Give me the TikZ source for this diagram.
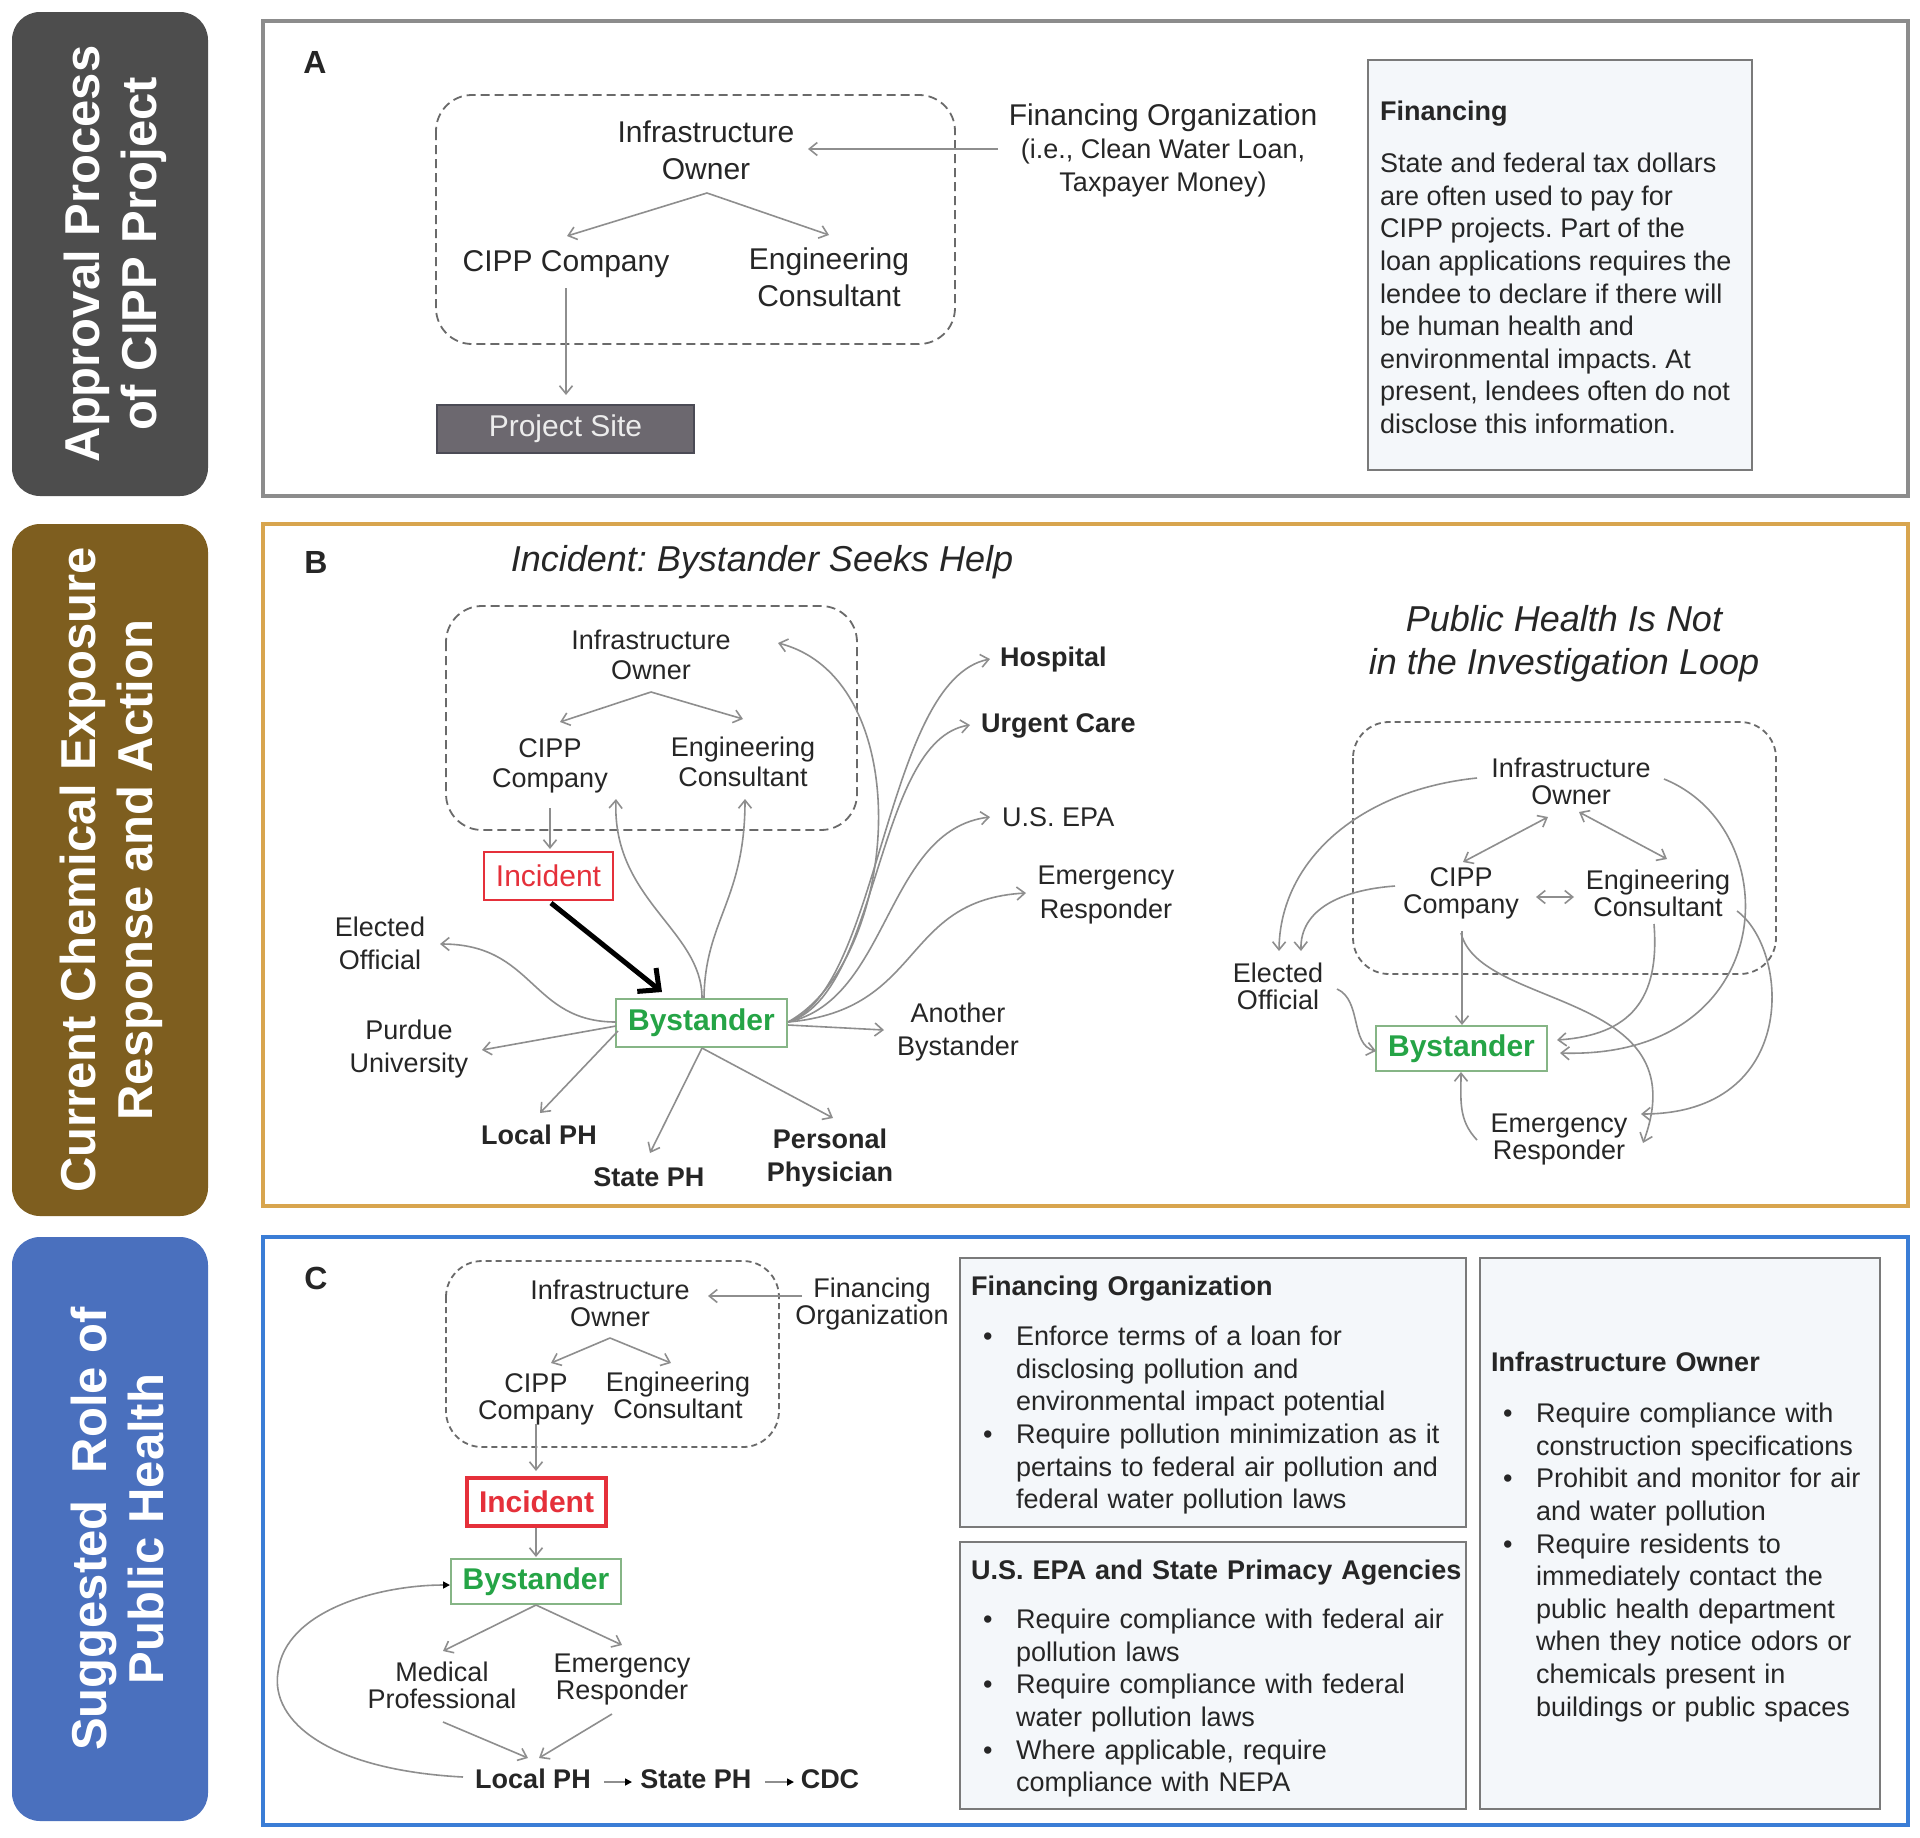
\documentclass[tikz,border=0pt]{standalone}
\usepackage{fontspec}
\setmainfont{Liberation Sans}
\usetikzlibrary{arrows.meta}
\definecolor{barA}{HTML}{4D4D4D}
\definecolor{barB}{HTML}{7E5E1F}
\definecolor{barC}{HTML}{4A70BE}
\definecolor{frA}{HTML}{8C8C8C}
\definecolor{frB}{HTML}{D8A54E}
\definecolor{frC}{HTML}{3A7DD6}
\definecolor{lgrey}{HTML}{8E8E8E}
\definecolor{dgrey}{HTML}{6A6A6A}
\definecolor{txt}{HTML}{262626}
\definecolor{incred}{HTML}{E5303A}
\definecolor{bygreen}{HTML}{25A446}
\definecolor{byborder}{HTML}{86B586}
\definecolor{boxfill}{HTML}{F4F7FA}
\definecolor{boxline}{HTML}{7A7A7A}
\definecolor{siteFill}{HTML}{6C686F}
\definecolor{siteLine}{HTML}{4B4B55}
\newcommand{\bitm}[1]{\hangindent=45pt\hangafter=1\noindent\hspace*{12pt}\makebox[33pt][l]{\textbullet}#1\par}
\frenchspacing
\begin{document}
\begin{tikzpicture}[x=1pt,y=-1pt,
  lab/.style={align=center,inner sep=0pt,text=txt},
  la30/.style={lab,font=\fontsize{30}{37}\selectfont},
  lb27/.style={lab,font=\fontsize{27}{30}\selectfont},
  lo27/.style={lab,font=\fontsize{27}{33}\selectfont},
  lr27/.style={lab,font=\fontsize{27}{27}\selectfont},
  bo27/.style={lab,font=\bfseries\fontsize{27}{33}\selectfont},
  panlab/.style={lab,font=\bfseries\fontsize{32}{32}\selectfont},
  ttl/.style={lab,font=\itshape\fontsize{36}{43}\selectfont},
  bartxt/.style={align=center,inner sep=0pt,text=white,rotate=90,font=\bfseries\fontsize{49}{57}\selectfont},
  dbox/.style={draw=dgrey,line width=1.8pt,dash pattern=on 9pt off 5pt,rounded corners=36pt},
  dboxs/.style={draw=dgrey,line width=1.8pt,dash pattern=on 6pt off 4pt,rounded corners=36pt},
  arr/.style={draw=lgrey,line width=1.6pt,-{Straight Barb[length=8pt,width=13pt]}},
  barr/.style={draw=lgrey,line width=1.6pt,{Straight Barb[length=8pt,width=13pt]}-{Straight Barb[length=8pt,width=13pt]}},
  smarr/.style={draw=lgrey,line width=1.6pt,-{Triangle[length=7pt,width=7pt,color=black]}},
  bybox/.style={draw=byborder,line width=2pt,inner sep=0pt,text=bygreen,font=\bfseries\fontsize{30}{30}\selectfont},
  incbox/.style={draw=incred,line width=2.5pt,inner sep=0pt,text=incred,font=\fontsize{30}{30}\selectfont},
  tbox/.style={draw=boxline,line width=2pt,fill=boxfill},
  btxt/.style={anchor=north west,inner sep=0pt,align=left,text=txt,font=\fontsize{27}{32.6}\selectfont}
]
\useasboundingbox (0,0) rectangle (1920,1837);
\fill[white] (0,0) rectangle (1920,1837);

% ---------------- side bars
\fill[barA,rounded corners=28pt] (12,12) rectangle (208,496);
\node[bartxt] (barAt) at (115,254) {Approval Process\\of CIPP Project};
\fill[barB,rounded corners=28pt] (12,524) rectangle (208,1216);
\node[bartxt] (barBt) at (111,870) {Current Chemical Exposure\\Response and Action};
\fill[barC,rounded corners=28pt] (12,1237) rectangle (208,1821);
\node[bartxt] (barCt) at (117,1529) {Suggested\ \ Role of\\Public Health};

% ---------------- frames
\draw[frA,line width=3.5pt] (263,21) rectangle (1908,496);
\draw[frB,line width=3.5pt] (263,524) rectangle (1908,1206);
\draw[frC,line width=3.5pt] (263,1237) rectangle (1908,1825);

% ================= PANEL A
\node[panlab] (labA) at (315,62) {A};
\draw[dbox] (436,95) rectangle (955,344);
\node[la30] (ioA) at (706,150) {Infrastructure\\Owner};
\node[la30] (cippA) at (566,264) {CIPP Company};
\node[la30] (ecA) at (829,277) {Engineering\\Consultant};
\node[draw=siteLine,line width=2pt,fill=siteFill,minimum width=257pt,minimum height=48pt,inner sep=0pt,text={rgb,255:red,236;green,236;blue,236},font=\fontsize{30}{30}\selectfont] (siteA) at (565.5,429) {Project Site};
\node[lab,font=\fontsize{27}{33}\selectfont] (finA) at (1163,150) {{\fontsize{30}{33}\selectfont Financing Organization}\\(i.e., Clean Water Loan,\\Taxpayer Money)};
\coordinate (apexA) at (707,193);
\coordinate (cippAin) at (567,236);
\coordinate (ecAin) at (829,235);
\coordinate (cippAout) at (566,288);
\coordinate (siteAin) at (566,395);
\coordinate (finAout) at (998,149);
\coordinate (ioAin) at (808,149);
\draw[arr] (apexA) -- (cippAin);
\draw[arr] (apexA) -- (ecAin);
\draw[arr] (cippAout) -- (siteAin);
\draw[arr] (finAout) -- (ioAin);
\draw[tbox] (1368,60) rectangle (1752,470);
\node[btxt] (finTxtA) at (1380,101) {\textbf{Financing}\\[19.4pt]
State and federal tax dollars\\
are often used to pay for\\
CIPP projects. Part of the\\
loan applications requires the\\
lendee to declare if there will\\
be human health and\\
environmental impacts. At\\
present, lendees often do not\\
disclose this information.};

% ================= PANEL B (left)
\node[panlab] (labB) at (316,562) {B};
\node[ttl] (ttlB) at (762,562) {Incident: Bystander Seeks Help};
\draw[dbox] (446,606) rectangle (857,830);
\node[lb27] (ioB) at (651,655) {Infrastructure\\Owner};
\node[lb27] (cippB) at (550,766) {CIPP\\Company};
\node[lb27] (ecB) at (743,762) {Engineering\\Consultant};
\node[incbox,minimum width=129pt,minimum height=48pt] (incB) at (548.5,876) {Incident};
\node[bybox,minimum width=171pt,minimum height=48pt] (byB) at (701.5,1023) {Bystander};
\node[lo27] (elB) at (380,943) {Elected\\Official};
\node[lo27] (puB) at (409,1049) {Purdue\\University};
\node[bo27] (lphB) at (539,1135) {Local PH};
\node[bo27] (sphB) at (649,1177) {State PH};
\node[bo27] (ppB) at (830,1158) {Personal\\Physician};
\node[lo27] (anB) at (958,1032) {Another\\Bystander};
\node[bo27,anchor=west] (hoB) at (1000,660) {Hospital};
\node[bo27,anchor=west] (ucB) at (981,726) {Urgent Care};
\node[lo27,anchor=west] (epaB) at (1002,817) {U.S. EPA};
\node[lo27] (erB) at (1106,895) {Emergency\\Responder};

\coordinate (apexB) at (651,692);
\coordinate (cippBin) at (560,722);
\coordinate (ecBin) at (743,719);
\coordinate (cippBout) at (550,808);
\coordinate (incBin) at (550,849);
\coordinate (incBout) at (551,903);
\coordinate (byBin) at (662,992);
\coordinate (byBl) at (616,1022);
\coordinate (byBl2) at (616,1026);
\coordinate (byBl3) at (618,1031);
\coordinate (byBb) at (702,1048);
\coordinate (byBt) at (702,998);
\coordinate (byBt2) at (704,998);
\coordinate (byBr) at (788,1022);
\coordinate (byBr2) at (788,1025);
\coordinate (elBin) at (440,944);
\coordinate (puBin) at (482,1050);
\coordinate (lphBin) at (540,1113);
\coordinate (sphBin) at (650,1153);
\coordinate (ppBin) at (833,1118);
\coordinate (anBin) at (884,1030);
\coordinate (cippBup) at (616,799);
\coordinate (ecBup) at (745,799);
\coordinate (ioBin) at (778,643);
\coordinate (hoBin) at (990,659);
\coordinate (ucBin) at (970,725);
\coordinate (epaBin) at (990,817);
\coordinate (erBin) at (1026,893);

\draw[arr] (apexB) -- (cippBin);
\draw[arr] (apexB) -- (ecBin);
\draw[arr] (cippBout) -- (incBin);
\draw[line width=5pt,-{Straight Barb[length=16pt,width=30pt]}] (incBout) -- (byBin);
\draw[arr] (byBl) .. controls (530,1022) and (535,944) .. (elBin);
\draw[arr] (byBl2) -- (puBin);
\draw[arr] (byBl3) -- (lphBin);
\draw[arr] (byBb) -- (sphBin);
\draw[arr] (byBb) -- (ppBin);
\draw[arr] (byBr2) -- (anBin);
\draw[arr] (byBt) .. controls (702,930) and (612,900) .. (cippBup);
\draw[arr] (byBt2) .. controls (705,920) and (745,900) .. (ecBup);
\draw[arr] (byBr) .. controls (900,960) and (920,680) .. (ioBin);
\draw[arr] (byBr) .. controls (880,990) and (885,680) .. (hoBin);
\draw[arr] (byBr) .. controls (880,995) and (875,740) .. (ucBin);
\draw[arr] (byBr) .. controls (890,1000) and (885,830) .. (epaBin);
\draw[arr] (byBr) .. controls (925,1010) and (900,900) .. (erBin);

% ================= PANEL B (right)
\node[ttl] (ttlR) at (1564,644) {Public Health Is Not\\in the Investigation Loop};
\draw[dboxs] (1353,722) rectangle (1776,974);
\node[lr27] (ioR) at (1571,781) {Infrastructure\\Owner};
\node[lr27] (cippR) at (1461,893) {CIPP\\Company};
\node[lr27] (ecR) at (1658,893) {Engineering\\Consultant};
\node[lr27] (elR) at (1278,986) {Elected\\Official};
\node[bybox,minimum width=171pt,minimum height=45pt] (byR) at (1461.5,1048.5) {Bystander};
\node[lr27] (erR) at (1559,1139) {Emergency\\Responder};

\coordinate (ioRa) at (1548,817);
\coordinate (cippRa) at (1463,862);
\coordinate (ioRb) at (1579,812);
\coordinate (ecRa) at (1667,859);
\coordinate (cippRr) at (1536,897);
\coordinate (ecRl) at (1574,897);
\coordinate (cippRb) at (1462,931);
\coordinate (byRt) at (1462,1025);
\coordinate (ioRl) at (1477,778);
\coordinate (elRin1) at (1279,951);
\coordinate (cippRl) at (1395,886);
\coordinate (elRin2) at (1301,951);
\coordinate (elRout) at (1337,989);
\coordinate (byRl) at (1376,1051);
\coordinate (ecRb) at (1654,924);
\coordinate (byRr1) at (1557,1040);
\coordinate (ioRr) at (1664,779);
\coordinate (byRr2) at (1560,1053);
\coordinate (cippRb2) at (1461,933);
\coordinate (erRin1) at (1643,1143);
\coordinate (ecRr) at (1737,911);
\coordinate (erRin2) at (1641,1114);
\coordinate (erRout) at (1477,1140);
\coordinate (byRb) at (1461,1072);

\draw[barr] (ioRa) -- (cippRa);
\draw[barr] (ioRb) -- (ecRa);
\draw[barr] (cippRr) -- (ecRl);
\draw[arr] (cippRb) -- (byRt);
\draw[arr] (ioRl) .. controls (1360,790) and (1280,860) .. (elRin1);
\draw[arr] (cippRl) .. controls (1340,890) and (1300,910) .. (elRin2);
\draw[arr] (elRout) .. controls (1362,1000) and (1350,1045) .. (byRl);
\draw[arr] (ecRb) .. controls (1660,1000) and (1630,1035) .. (byRr1);
\draw[arr] (ioRr) .. controls (1790,830) and (1780,1060) .. (byRr2);
\draw[arr] (cippRb2) .. controls (1480,1010) and (1700,990) .. (erRin1);
\draw[arr] (ecRr) .. controls (1790,950) and (1800,1114) .. (erRin2);
\draw[arr] (erRout) .. controls (1458,1120) and (1461,1100) .. (byRb);

% ================= PANEL C
\node[panlab] (labC) at (316,1278) {C};
\draw[dboxs] (446,1261) rectangle (779,1447);
\node[lr27] (ioC) at (610,1303) {Infrastructure\\Owner};
\node[lr27] (finC) at (872,1304) {Financing\\Organization};
\node[lr27] (cippC) at (536,1399) {CIPP\\Company};
\node[lr27] (ecC) at (678,1395) {Engineering\\Consultant};
\node[incbox,line width=3.5pt,font=\bfseries\fontsize{30}{30}\selectfont,minimum width=139pt,minimum height=48pt] (incC) at (536.5,1502) {Incident};
\node[bybox,minimum width=170pt,minimum height=45pt] (byC) at (536,1581.5) {Bystander};
\node[lr27] (medC) at (442,1685) {Medical\\Professional};
\node[lr27] (erC) at (622,1679) {Emergency\\Responder};
\node[bo27] (lphC) at (533,1779) {Local PH};
\node[bo27] (sphC) at (696,1779) {State PH};
\node[bo27] (cdcC) at (830,1779) {CDC};

\coordinate (finCout) at (802,1296);
\coordinate (ioCin) at (708,1296);
\coordinate (apexC) at (610,1338);
\coordinate (cippCin) at (551,1363);
\coordinate (ecCin) at (671,1363);
\coordinate (cippCout) at (536,1424);
\coordinate (incCin) at (536,1471);
\coordinate (incCout) at (536,1528);
\coordinate (byCin) at (536,1557);
\coordinate (byCb) at (536,1605);
\coordinate (medCin) at (443,1651);
\coordinate (erCin) at (622,1645);
\coordinate (medCout) at (443,1722);
\coordinate (erCout) at (612,1714);
\coordinate (lphCin1) at (528,1758);
\coordinate (lphCin2) at (539,1758);
\coordinate (lphCr) at (604,1782);
\coordinate (sphCl) at (632,1782);
\coordinate (sphCr) at (765,1782);
\coordinate (cdcCl) at (794,1782);
\coordinate (lphCl) at (463,1777);
\coordinate (loopmid) at (278,1672);
\coordinate (byCl) at (450,1585);

\draw[arr] (finCout) -- (ioCin);
\draw[arr] (apexC) -- (cippCin);
\draw[arr] (apexC) -- (ecCin);
\draw[arr] (cippCout) -- (incCin);
\draw[arr] (incCout) -- (byCin);
\draw[arr] (byCb) -- (medCin);
\draw[arr] (byCb) -- (erCin);
\draw[arr] (medCout) -- (lphCin1);
\draw[arr] (erCout) -- (lphCin2);
\draw[smarr] (lphCr) -- (sphCl);
\draw[smarr] (sphCr) -- (cdcCl);
\draw[smarr] (lphCl) .. controls (330,1770) and (270,1722) .. (loopmid) .. controls (285,1610) and (380,1585) .. (byCl);

\draw[tbox] (960,1258) rectangle (1466,1527);
\node[btxt,text width=495pt] (finTxtC) at (971,1276) {\textbf{Financing Organization}\par\vspace{17.4pt}%
\bitm{Enforce terms of a loan for\newline disclosing pollution and\newline environmental impact potential}%
\bitm{Require pollution minimization as it\newline pertains to federal air pollution and\newline federal water pollution laws}};

\draw[tbox] (960,1542) rectangle (1466,1809);
\node[btxt,text width=495pt] (epaTxtC) at (971,1560) {\textbf{U.S. EPA and State Primacy Agencies}\par\vspace{16.4pt}%
\bitm{Require compliance with federal air\newline pollution laws}%
\bitm{Require compliance with federal\newline water pollution laws}%
\bitm{Where applicable, require\newline compliance with NEPA}};

\draw[tbox] (1480,1258) rectangle (1880,1809);
\node[btxt,text width=385pt] (ioTxtC) at (1491,1352) {\textbf{Infrastructure Owner}\par\vspace{18.4pt}%
\bitm{Require compliance with\newline construction specifications}%
\bitm{Prohibit and monitor for air\newline and water pollution}%
\bitm{Require residents to\newline immediately contact the\newline public health department\newline when they notice odors or\newline chemicals present in\newline buildings or public spaces}};
\end{tikzpicture}
\end{document}
